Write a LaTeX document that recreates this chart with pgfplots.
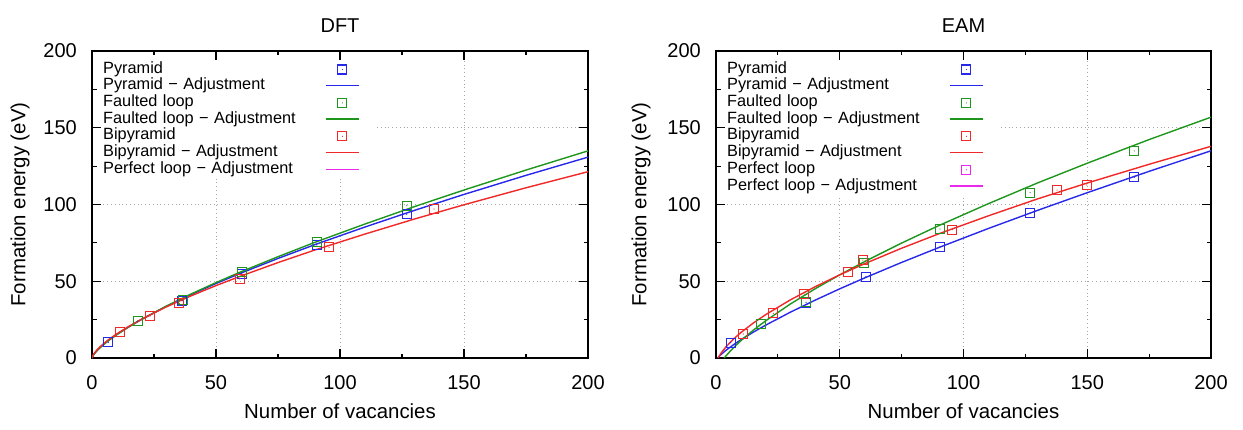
\documentclass[border=0pt]{standalone}
\usepackage{fontspec}
\setmainfont{Liberation Sans}
\usepackage{pgfplots}
\pgfplotsset{compat=1.18}

\definecolor{gpblue}{RGB}{40,40,235}
\definecolor{gpgreen}{RGB}{30,150,30}
\definecolor{gpred}{RGB}{240,40,40}
\definecolor{gpmag}{RGB}{235,40,235}

\pgfdeclareplotmark{sqdot}{%
  \pgfpathrectangle{\pgfpoint{-\pgfplotmarksize}{-\pgfplotmarksize}}{\pgfpoint{2\pgfplotmarksize}{2\pgfplotmarksize}}%
  \pgfusepathqstroke
  \pgfpathcircle{\pgfpointorigin}{0.6bp}%
  \pgfusepathqfill}

\pgfplotsset{
  gpbase/.style={
    scale only axis, height=307bp,
    xmin=0, xmax=200, ymin=0, ymax=200,
    xtick={0,50,...,200}, ytick={0,50,...,200}, minor tick num=1,
    tick align=inside, major tick length=9bp, minor tick length=4.5bp,
    every tick/.style={black, line width=1.1bp},
    axis line style={line width=1.3bp},
    grid=major, major grid style={gray!70, line width=0.8bp, dash pattern=on 0.8bp off 3bp},
    /pgf/number format/assume math mode=true,
    tick label style={font=\fontsize{20bp}{24bp}\selectfont},
    xticklabel style={inner sep=0pt, anchor=north, yshift=-17bp},
    yticklabel style={inner sep=0pt, anchor=east, xshift=-15bp},
    label style={font=\fontsize{20.4bp}{24bp}\selectfont},
    xlabel style={at={(rel axis cs:0.5,0)}, anchor=base, yshift=-60bp},
    title style={font=\fontsize{20bp}{24bp}\selectfont, at={(rel axis cs:0.5,1)}, anchor=base, yshift=13bp},
    legend plot pos=right, legend cell align=left,
    legend style={at={(0,1)}, anchor=north west, xshift=10bp, yshift=-9bp,
      draw=none, fill=white, inner xsep=1bp, inner ysep=1bp, row sep=0pt,
      font=\fontsize{16.3bp}{19bp}\selectfont,
      nodes={inner sep=0pt, text width=222bp, text height=12bp, text depth=4.7bp, align=left}},
  },
  sq/.style={only marks, mark=sqdot, mark size=4.5bp, mark options={line width=1.1bp, solid},
    legend image code/.code={\draw[##1] plot coordinates {(16.5bp,0bp)}; \path (0bp,0bp) (46bp,0bp);}},
  ln/.style={no marks, line width=1.4bp,
    legend image code/.code={\draw[##1] (0bp,0.5bp) -- (33bp,0.5bp); \path (46bp,0bp);}},
}

\begin{document}
\begin{tikzpicture}[x=1bp,y=1bp]
\useasboundingbox (0,0) rectangle (1243,429);

% ---------------- DFT ----------------
\begin{axis}[gpbase, width=496bp, at={(92bp,71bp)}, anchor=south west,
  title={DFT}, xlabel={Number of vacancies}, ylabel={Formation energy (eV)},
  every axis y label/.style={at={(axis description cs:-0.1452,0.5)}, anchor=center, rotate=90, font=\fontsize{20.4bp}{24bp}\selectfont}]
\addplot[sq, gpblue] coordinates {(6.6,10.2) (18.4,23.9) (36.4,37.3) (60.4,55.0) (90.6,73.6) (126.9,93.6)};
\addlegendentry{Pyramid}
\addplot[ln, gpblue] coordinates {(0,0) (0.5,1.80) (1,2.95) (2,4.84) (3,6.47) (5,9.33) (7,11.87) (10,15.33) (15,20.49) (20,25.18) (30,33.66) (40,41.35) (50,48.52) (60,55.27) (75,64.86) (90,73.94) (110,85.29) (130,96.17) (150,106.57) (175,118.98) (200,130.86)};
\addlegendentry{Pyramid − Adjustment}
\addplot[sq, gpgreen] coordinates {(18.4,24.2) (36.6,37.8) (60.4,56.2) (90.6,75.6) (126.9,99.2)};
\addlegendentry{Faulted loop}
\addplot[ln, gpgreen] coordinates {(0,0) (0.5,1.71) (1,2.84) (2,4.70) (3,6.32) (5,9.17) (7,11.72) (10,15.20) (15,20.42) (20,25.19) (30,33.84) (40,41.74) (50,49.12) (60,56.12) (75,65.99) (90,75.44) (110,87.24) (130,98.61) (150,109.44) (175,122.43) (200,134.94)};
\addlegendentry{Faulted loop − Adjustment}
\addplot[sq, gpred] coordinates {(11.3,17.1) (23.4,27.4) (35.2,35.6) (59.5,51.5) (95.6,72.1) (137.9,97.1)};
\addlegendentry{Bipyramid}
\addplot[ln, gpred] coordinates {(0,0) (0.5,2.04) (1,3.27) (2,5.25) (3,6.92) (5,9.81) (7,12.34) (10,15.75) (15,20.75) (20,25.25) (30,33.31) (40,40.52) (50,47.17) (60,53.38) (75,62.16) (90,70.43) (110,80.71) (130,90.53) (150,99.83) (175,110.89) (200,121.37)};
\addlegendentry{Bipyramid − Adjustment}
\addlegendimage{ln, gpmag}
\addlegendentry{Perfect loop − Adjustment}
\end{axis}

% ---------------- EAM ----------------
\begin{axis}[gpbase, width=495bp, at={(716bp,71bp)}, anchor=south west,
  title={EAM}, xlabel={Number of vacancies}, ylabel={Formation energy (eV)},
  every axis y label/.style={at={(axis description cs:-0.1515,0.5)}, anchor=center, rotate=90, font=\fontsize{20.4bp}{24bp}\selectfont}]
\addplot[sq, gpblue] coordinates {(5.9,10.0) (36.4,36.0) (60.5,53.0) (90.5,72.5) (126.9,94.3) (169.0,117.7)};
\addlegendentry{Pyramid}
\addplot[ln, gpblue] coordinates {(0.7,0) (1,0.65) (2,2.25) (4,4.99) (7,8.57) (10,11.81) (15,16.76) (20,21.35) (30,29.81) (40,37.64) (50,45.07) (60,52.13) (75,62.28) (90,71.95) (110,84.35) (130,96.23) (150,107.7) (175,121.6) (200,135.0)};
\addlegendentry{Pyramid − Adjustment}
\addplot[sq, gpgreen] coordinates {(18.1,22.1) (36.4,36.3) (59.8,61.7) (90.5,84.0) (126.9,107.7) (169.0,134.9)};
\addlegendentry{Faulted loop}
\addplot[ln, gpgreen] coordinates {(3.3,0) (4,1.32) (6,4.94) (8,8.20) (10,11.21) (15,18.03) (20,24.16) (30,35.14) (40,45.05) (50,54.19) (60,62.77) (75,74.88) (90,86.26) (110,100.5) (130,114.1) (150,126.9) (175,142.3) (200,156.9)};
\addlegendentry{Faulted loop − Adjustment}
\addplot[sq, gpred] coordinates {(11.0,15.6) (23.2,29.1) (35.6,41.7) (53.2,56.2) (59.3,63.8) (95.5,83.6) (137.8,109.4) (149.8,112.7)};
\addlegendentry{Bipyramid}
\addplot[ln, gpred] coordinates {(0.9,0) (1,0.39) (2,3.06) (4,7.23) (7,12.24) (10,16.51) (15,22.70) (20,28.18) (30,37.83) (40,46.37) (50,54.18) (60,61.41) (75,71.52) (90,80.91) (110,92.60) (130,103.7) (150,114.0) (175,126.2) (200,137.9)};
\addlegendentry{Bipyramid − Adjustment}
\addlegendimage{sq, gpmag}
\addlegendentry{Perfect loop}
\addlegendimage{ln, gpmag}
\addlegendentry{Perfect loop − Adjustment}
\end{axis}
\end{tikzpicture}
\end{document}
